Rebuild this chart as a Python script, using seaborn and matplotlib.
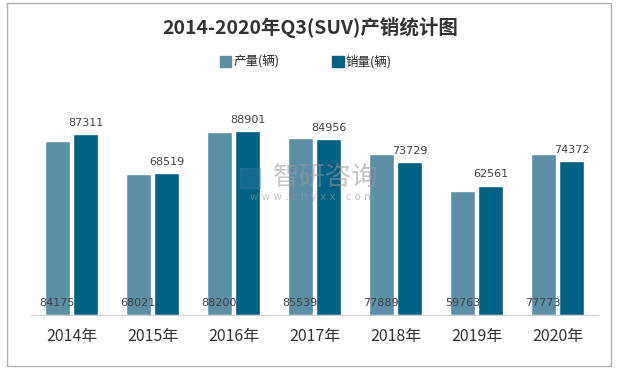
import matplotlib
matplotlib.use("Agg")
import matplotlib.pyplot as plt
import matplotlib.patches as mpatches
import pandas as pd
import seaborn as sns

years = ["2014年", "2015年", "2016年", "2017年", "2018年", "2019年", "2020年"]
production = [84175, 68021, 88200, 85539, 77889, 59763, 77773]
sales = [87311, 68519, 88901, 84956, 73729, 62561, 74372]
series = ["产量(辆)", "销量(辆)"]
colors = ["#5b8fa6", "#006184"]

df = pd.DataFrame({
    "year": years * 2,
    "value": production + sales,
    "series": [series[0]] * len(years) + [series[1]] * len(years),
})

sns.set_style("white")
plt.rcParams["font.family"] = ["Noto Sans CJK SC", "DejaVu Sans"]

fig = plt.figure(figsize=(6.17, 3.68), dpi=100)
ax = fig.add_axes([31 / 617, 53 / 368, 567 / 617, 215 / 368])

sns.barplot(data=df, x="year", y="value", hue="series", palette=colors,
            width=0.7, gap=0.1, ax=ax, legend=False, saturation=1)

ax.set_ylim(0, 103900)
ax.set_xlim(-0.5, len(years) - 0.5)
ax.set_xlabel("")
ax.set_ylabel("")
ax.set_yticks([])
for s in ["top", "left", "right"]:
    ax.spines[s].set_visible(False)
ax.spines["bottom"].set_color("#d0d0d0")
ax.tick_params(axis="x", length=0, pad=9, labelsize=11.5, labelcolor="#333333")

# production labels sit at the bar base, sales labels above the bar
prod_bars, sales_bars = ax.containers[0], ax.containers[1]
for bar, v in zip(prod_bars, production):
    ax.annotate(str(v), (bar.get_x() + bar.get_width() / 2, 0),
                xytext=(0, 9), textcoords="offset points", ha="center",
                va="center", fontsize=8, color="#404040", family="DejaVu Sans")
for bar, v in zip(sales_bars, sales):
    ax.annotate(str(v), (bar.get_x() + bar.get_width() / 2, v),
                xytext=(0, 8), textcoords="offset points", ha="center",
                va="center", fontsize=8, color="#404040", family="DejaVu Sans")

# watermark
fig.text(326 / 617, 1 - 177 / 368, "智研咨询", ha="center", va="center", fontsize=19,
         color="#999999", alpha=0.55)
fig.text(312 / 617, 1 - 197 / 368, "w w w . c h y x x . c o m", ha="center", va="center",
         fontsize=7.5, color="#999999", alpha=0.55, family="DejaVu Sans")
fig.patches.append(mpatches.Rectangle((240 / 617, 1 - 188 / 368), 20 / 617, 20 / 368,
                                      transform=fig.transFigure, color="#3a7fa8",
                                      alpha=0.35))

fig.text(310 / 617, 1 - 27 / 368, "2014-2020年Q3(SUV)产销统计图", ha="center",
         va="center", fontsize=14, fontweight="bold", color="#333333")

handles = [mpatches.Patch(color=c, label=s) for c, s in zip(colors, series)]
fig.legend(handles=handles, loc="center", bbox_to_anchor=(306 / 617, 1 - 62 / 368),
           ncol=2, frameon=False, fontsize=9, handlelength=0.9, handleheight=0.9,
           handletextpad=0.2, columnspacing=4.2)

fig.patches.append(mpatches.Rectangle((7 / 617, 2 / 368), 604 / 617, 363 / 368,
                                      transform=fig.transFigure, fill=False,
                                      edgecolor="#b0b0b0", linewidth=1))

fig.savefig("out.png", dpi=100)
